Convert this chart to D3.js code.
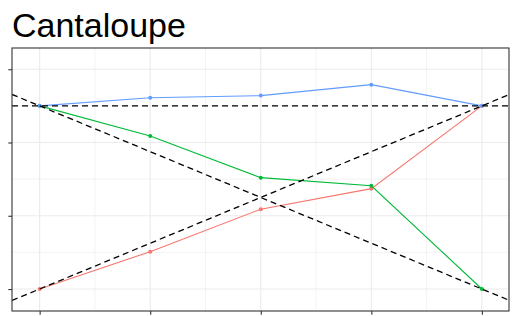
<!DOCTYPE html>
<html><head><meta charset="utf-8">
<script src="https://cdn.jsdelivr.net/npm/d3@7"></script>
<style>body{margin:0;background:#fff;} svg{display:block;}</style>
</head><body>
<script>
const title = "Cantaloupe";
const xValues = [1, 2, 3, 4, 5];
const seriesNames = ["red", "green", "blue"];
const redValues = [0.00, 0.51, 1.09, 1.37, 2.50];
const greenValues = [2.50, 2.09, 1.52, 1.41, 0.00];
const blueValues = [2.50, 2.61, 2.64, 2.79, 2.50];
const xTicks = [1, 2, 3, 4, 5];
const yTicks = [0, 1, 2, 3];
const refLines = [
  {p1: [1, 2.5], p2: [5, 2.5]},
  {p1: [1, 2.5], p2: [5, 0]},
  {p1: [1, 0], p2: [5, 2.5]}
];

const W = 519, H = 316;
const panel = {left: 12, top: 48, right: 509, bottom: 311};
const colors = {red: "#F8766D", green: "#00BA38", blue: "#619CFF"};

const x = d3.scaleLinear().domain([0.75, 5.245]).range([panel.left, panel.right]);
const y = d3.scaleLinear().domain([-0.30, 3.29]).range([panel.bottom, panel.top]);

const svg = d3.select("body").append("svg").attr("width", W).attr("height", H);

svg.append("text").attr("x", 12).attr("y", 37)
  .attr("font-family", "'Liberation Sans', Arial, sans-serif")
  .attr("font-size", 34).attr("fill", "#000").text(title);

svg.append("defs").append("clipPath").attr("id", "clip")
  .append("rect").attr("x", panel.left).attr("y", panel.top)
  .attr("width", panel.right - panel.left).attr("height", panel.bottom - panel.top);

const g = svg.append("g");
const xMinor = xTicks.slice(0, -1).map((d, i) => (d + xTicks[i + 1]) / 2);
const yMinor = yTicks.slice(0, -1).map((d, i) => (d + yTicks[i + 1]) / 2);
g.selectAll(".xmin").data(xMinor).join("line")
  .attr("x1", d => x(d)).attr("x2", d => x(d)).attr("y1", panel.top).attr("y2", panel.bottom)
  .attr("stroke", "#ebebeb").attr("stroke-width", 0.6);
g.selectAll(".ymin").data(yMinor).join("line")
  .attr("y1", d => y(d)).attr("y2", d => y(d)).attr("x1", panel.left).attr("x2", panel.right)
  .attr("stroke", "#ebebeb").attr("stroke-width", 0.6);
g.selectAll(".xmaj").data(xTicks).join("line")
  .attr("x1", d => x(d)).attr("x2", d => x(d)).attr("y1", panel.top).attr("y2", panel.bottom)
  .attr("stroke", "#ebebeb").attr("stroke-width", 1.1);
g.selectAll(".ymaj").data(yTicks).join("line")
  .attr("y1", d => y(d)).attr("y2", d => y(d)).attr("x1", panel.left).attr("x2", panel.right)
  .attr("stroke", "#ebebeb").attr("stroke-width", 1.1);

const series = {red: redValues, green: greenValues, blue: blueValues};
const line = d3.line().x(d => x(d[0])).y(d => y(d[1]));
const plot = svg.append("g").attr("clip-path", "url(#clip)");
seriesNames.forEach(name => {
  const pts = xValues.map((xv, i) => [xv, series[name][i]]);
  plot.append("path").attr("d", line(pts)).attr("fill", "none")
    .attr("stroke", colors[name]).attr("stroke-width", 1.1);
  plot.selectAll(null).data(pts).join("circle")
    .attr("cx", d => x(d[0])).attr("cy", d => y(d[1])).attr("r", 2)
    .attr("fill", colors[name]);
});

const xd = x.domain();
refLines.forEach(r => {
  const slope = (r.p2[1] - r.p1[1]) / (r.p2[0] - r.p1[0]);
  const f = xx => r.p1[1] + slope * (xx - r.p1[0]);
  plot.append("line")
    .attr("x1", x(xd[0])).attr("y1", y(f(xd[0])))
    .attr("x2", x(xd[1])).attr("y2", y(f(xd[1])))
    .attr("stroke", "#000").attr("stroke-width", 1.3)
    .attr("stroke-dasharray", "6,4");
});

svg.append("rect").attr("x", panel.left).attr("y", panel.top)
  .attr("width", panel.right - panel.left).attr("height", panel.bottom - panel.top)
  .attr("fill", "none").attr("stroke", "#333333").attr("stroke-width", 1.1);

const yAxis = d3.axisLeft(y).tickValues(yTicks).tickSize(3.7).tickFormat("");
const xAxis = d3.axisBottom(x).tickValues(xTicks).tickSize(3.7).tickFormat("");
const ya = svg.append("g").attr("transform", `translate(${panel.left},0)`).call(yAxis);
const xa = svg.append("g").attr("transform", `translate(0,${panel.bottom})`).call(xAxis);
[ya, xa].forEach(a => {
  a.select(".domain").remove();
  a.selectAll(".tick line").attr("stroke", "#333333").attr("stroke-width", 1.1);
});
</script>
</body></html>
